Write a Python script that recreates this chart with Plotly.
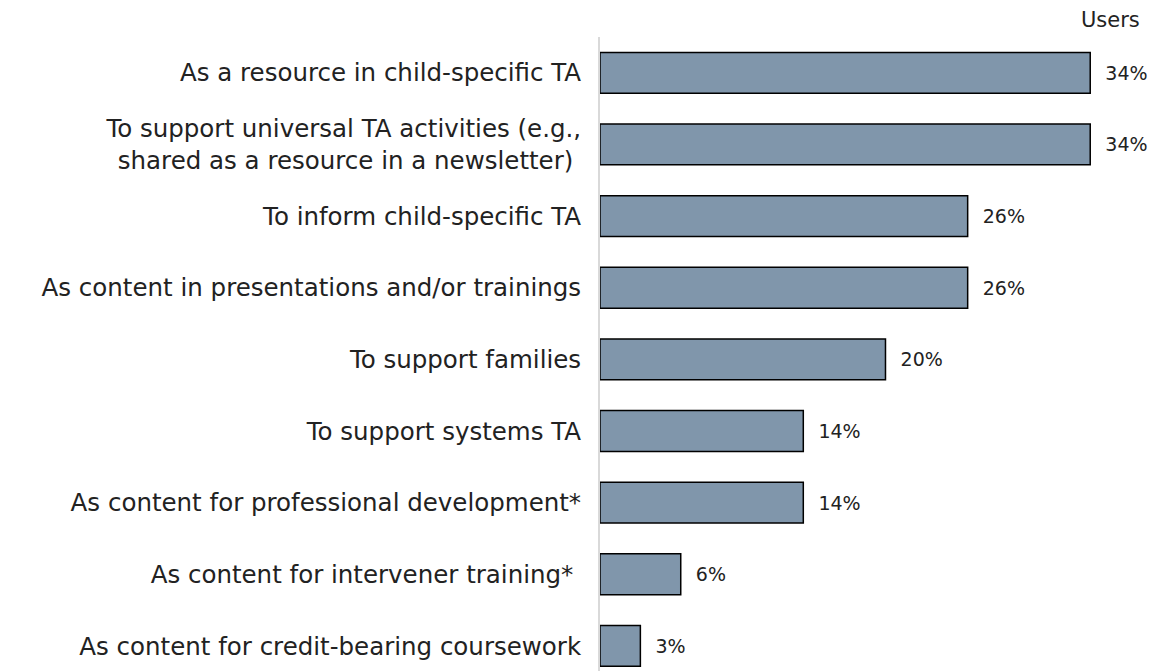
import plotly.graph_objects as go

categories = [
    "As a resource in child-specific TA",
    "To support universal TA activities (e.g.,<br>shared as a resource in a newsletter) ",
    "To inform child-specific TA",
    "As content in presentations and/or trainings",
    "To support families",
    "To support systems TA",
    "As content for professional development*",
    "As content for intervener training* ",
    "As content for credit-bearing coursework",
]
values = [34.0, 34.0, 25.5, 25.5, 19.8, 14.1, 14.1, 5.6, 2.8]
value_labels = ["34%", "34%", "26%", "26%", "20%", "14%", "14%", "6%", "3%"]

FONT = "DejaVu Sans"

fig = go.Figure(go.Bar(
    x=values, y=categories, orientation="h",
    marker=dict(color="#8096AB", line=dict(color="#000000", width=1.5)),
    width=0.57,
    text=value_labels, texttemplate="  %{text}", textposition="outside",
    textfont=dict(family=FONT, size=19, color="#222222"),
    cliponaxis=False,
))

fig.update_layout(
    width=1158, height=671,
    margin=dict(l=600, r=0, t=37, b=0),
    plot_bgcolor="white", paper_bgcolor="white",
    showlegend=False,
    font=dict(family=FONT, color="#222222"),
    xaxis=dict(range=[0, 38.7], visible=False),
    yaxis=dict(
        range=[8.35, -0.5], type="category",
        showline=True, linecolor="#D9D9D9", linewidth=2,
        showgrid=False, ticks="", ticklabelstandoff=12,
        tickfont=dict(family=FONT, size=24.5, color="#222222"),
    ),
    annotations=[dict(
        text="Users", xref="paper", yref="paper", x=1.0, y=1.0,
        xanchor="right", yanchor="bottom", xshift=-16, yshift=3,
        showarrow=False, font=dict(family=FONT, size=21, color="#222222"),
    )],
)

fig.write_html("out.html")
